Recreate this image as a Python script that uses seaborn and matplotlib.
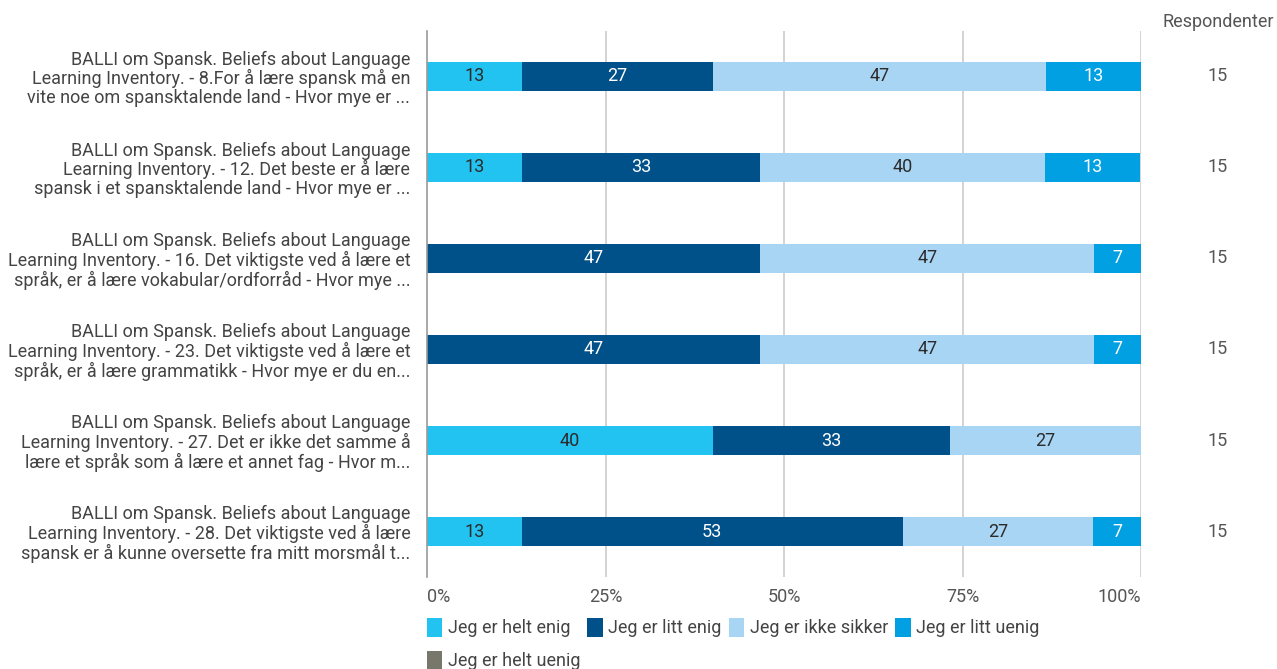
import matplotlib
matplotlib.use("Agg")
import matplotlib.pyplot as plt
import matplotlib.transforms as mtransforms
from matplotlib.patches import Patch
import numpy as np
import pandas as pd
import seaborn as sns

questions = [
    "BALLI om Spansk. Beliefs about Language\nLearning Inventory. - 8.For å lære spansk må en\nvite noe om spansktalende land - Hvor mye er ...",
    "BALLI om Spansk. Beliefs about Language\nLearning Inventory. - 12. Det beste er å lære\nspansk i et spansktalende land - Hvor mye er ...",
    "BALLI om Spansk. Beliefs about Language\nLearning Inventory. - 16. Det viktigste ved å lære et\nspråk, er å lære vokabular/ordforråd - Hvor mye ...",
    "BALLI om Spansk. Beliefs about Language\nLearning Inventory. - 23. Det viktigste ved å lære et\nspråk, er å lære grammatikk - Hvor mye er du en...",
    "BALLI om Spansk. Beliefs about Language\nLearning Inventory. - 27. Det er ikke det samme å\nlære et språk som å lære et annet fag - Hvor m...",
    "BALLI om Spansk. Beliefs about Language\nLearning Inventory. - 28. Det viktigste ved å lære\nspansk er å kunne oversette fra mitt morsmål t...",
]
categories = ["Jeg er helt enig", "Jeg er litt enig", "Jeg er ikke sikker",
              "Jeg er litt uenig", "Jeg er helt uenig"]
helt_enig = [13.3, 13.3, 0.0, 0.0, 40.0, 13.3]
litt_enig = [26.7, 33.3, 46.7, 46.7, 33.3, 53.3]
ikke_sikker = [46.7, 40.0, 46.7, 46.7, 26.7, 26.7]
litt_uenig = [13.3, 13.3, 6.7, 6.7, 0.0, 6.7]
helt_uenig = [0.0, 0.0, 0.0, 0.0, 0.0, 0.0]
respondents = [15, 15, 15, 15, 15, 15]
x_ticks = [0, 25, 50, 75, 100]
x_ticklabels = ["0%", "25%", "50%", "75%", "100%"]

colors = ["#22C3F1", "#00508A", "#A9D5F5", "#00A0E3", "#77776A"]
text_colors = ["#2b2b2b", "white", "#2b2b2b", "white", "white"]

series = [helt_enig, litt_enig, ikke_sikker, litt_uenig, helt_uenig]
shares = pd.DataFrame(dict(zip(categories, series)), index=questions)
cumulative = shares.cumsum(axis=1)

sns.set_theme(style="white")
plt.rcParams["font.family"] = ["Roboto", "DejaVu Sans"]
FS = 13

fig = plt.figure(figsize=(12.77, 6.69), dpi=100)
ax = fig.add_axes([0.3344, 0.1375, 0.5591, 0.8162])

# Stacked bars: draw cumulative totals from the last category backwards
for i in range(len(categories) - 1, -1, -1):
    df = pd.DataFrame({"q": questions, "v": cumulative.iloc[:, i].values})
    sns.barplot(data=df, x="v", y="q", order=questions, orient="h",
                color=colors[i], width=0.31, saturation=1, ax=ax,
                edgecolor="none", linewidth=0)

# Segment value labels
for r, q in enumerate(questions):
    left = 0.0
    for i, cat in enumerate(categories):
        v = shares.loc[q, cat]
        if v > 0:
            ax.text(left + v / 2, r, f"{v:.0f}", ha="center", va="center",
                    fontsize=FS, color=text_colors[i])
        left += v

ax.set_xlim(0, 100)
ax.set_ylim(5.5, -0.5)
ax.set_xlabel("")
ax.set_ylabel("")
ax.set_xticks(x_ticks)
ax.set_xticklabels(x_ticklabels, fontsize=FS, color="#555555")
xlabels = ax.get_xticklabels()
xlabels[0].set_horizontalalignment("left")
xlabels[-1].set_horizontalalignment("right")
ax.tick_params(axis="x", length=0, pad=8)
ax.tick_params(axis="y", length=0, pad=12)
for lab in ax.get_yticklabels():
    lab.set_fontsize(FS)
    lab.set_color("#444444")
    lab.set_horizontalalignment("right")
    lab.set_multialignment("right")
    lab.set_linespacing(1.05)

for s in ["top", "right", "bottom"]:
    ax.spines[s].set_visible(False)
ax.spines["left"].set_color("#9a9a9a")
ax.spines["left"].set_linewidth(1.2)
for t in x_ticks[1:]:
    ax.axvline(t, color="#cccccc", linewidth=1.2, zorder=0)
ax.set_axisbelow(True)

# Respondents column
trans = mtransforms.blended_transform_factory(fig.transFigure, ax.transData)
for r, n in enumerate(respondents):
    ax.text(1218 / 1277, r, str(n), transform=trans, ha="center", va="center",
            fontsize=FS, color="#555555")
fig.text(1218 / 1277, 1 - 22 / 669, "Respondenter", ha="center", va="center",
         fontsize=FS, color="#555555")

# Legend filled row by row (4 per row)
order = [0, 4, 1, 2, 3]
handles = [Patch(facecolor=c, edgecolor="none") for c in colors]
fig.legend([handles[k] for k in order], [categories[k] for k in order],
           loc="upper left", bbox_to_anchor=(427 / 1277, 1 - 618 / 669),
           ncol=4, frameon=False, fontsize=FS, handlelength=0.85,
           handleheight=1.2, handletextpad=0.3, columnspacing=0.4,
           labelspacing=0.75, labelcolor="#444444",
           borderaxespad=0, borderpad=0)

fig.savefig("out.png", dpi=100)
